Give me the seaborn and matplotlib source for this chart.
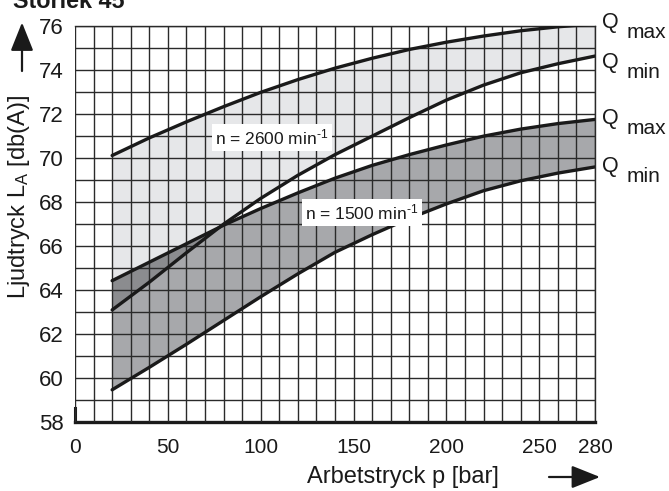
import matplotlib
matplotlib.use("Agg")
import numpy as np
import pandas as pd
import matplotlib.pyplot as plt
import seaborn as sns
from matplotlib.ticker import MultipleLocator

# Sound pressure level vs. working pressure, size 45
pressure = [20, 40, 60, 80, 100, 120, 140, 160, 180, 200, 220, 240, 260, 280]
n2600_qmax = [70.10, 70.90, 71.63, 72.32, 72.97, 73.55, 74.07, 74.52, 74.92, 75.25, 75.53, 75.77, 75.95, 76.08]
n2600_qmin = [63.08, 64.34, 65.68, 66.98, 68.15, 69.20, 70.14, 70.98, 71.82, 72.62, 73.30, 73.86, 74.27, 74.62]
n1500_qmax = [64.41, 65.25, 66.09, 66.93, 67.69, 68.40, 69.07, 69.65, 70.14, 70.58, 70.98, 71.30, 71.55, 71.74]
n1500_qmin = [59.45, 60.47, 61.52, 62.60, 63.68, 64.72, 65.70, 66.50, 67.24, 67.90, 68.50, 68.95, 69.30, 69.58]

x_ticks = [0, 50, 100, 150, 200, 250, 280]
y_ticks = [58, 60, 62, 64, 66, 68, 70, 72, 74, 76]

sns.set_theme(style="white")
plt.rcParams["font.family"] = ["Liberation Sans", "DejaVu Sans"]
plt.rcParams["mathtext.fontset"] = "custom"
plt.rcParams["mathtext.rm"] = "Liberation Sans"
plt.rcParams["mathtext.it"] = "Liberation Sans"

W, H = 669, 491
fig = plt.figure(figsize=(W / 100, H / 100), dpi=100)
ax = fig.add_axes([75 / W, 1 - 421.7 / H, 520 / W, 396 / H])

curves = {
    "2600 Qmax": n2600_qmax,
    "2600 Qmin": n2600_qmin,
    "1500 Qmax": n1500_qmax,
    "1500 Qmin": n1500_qmin,
}
df = pd.concat(
    [pd.DataFrame({"p": pressure, "L": v, "curve": k}) for k, v in curves.items()],
    ignore_index=True,
)

p = np.array(pressure, dtype=float)
a_hi, a_lo = np.array(n2600_qmax), np.array(n2600_qmin)
b_hi, b_lo = np.array(n1500_qmax), np.array(n1500_qmin)

# bands for both speeds, and their overlap
ax.fill_between(p, a_lo, a_hi, color="#e6e7e9", lw=0, zorder=1)
ax.fill_between(p, b_lo, b_hi, color="#a7a8ab", lw=0, zorder=1.1)
ov_lo = np.maximum(a_lo, b_lo)
ov_hi = np.minimum(a_hi, b_hi)
ax.fill_between(p, ov_lo, ov_hi, where=ov_hi > ov_lo, interpolate=True,
                color="#8b8c8f", lw=0, zorder=1.2)

sns.lineplot(data=df, x="p", y="L", hue="curve",
             palette={k: "#1a1a1a" for k in curves}, legend=False,
             lw=2.4, ax=ax, zorder=3, sort=True)

ax.set_xlim(0, 280)
ax.set_ylim(58, 76)
ax.set_xticks(x_ticks)
ax.set_yticks(y_ticks)
ax.xaxis.set_minor_locator(MultipleLocator(10))
ax.yaxis.set_minor_locator(MultipleLocator(1))
ax.set_axisbelow(False)
ax.grid(which="both", color="#2a2a2a", lw=1.0)
ax.tick_params(axis="x", which="major", direction="out", length=7, width=1.6,
               color="#1a1a1a", labelsize=15, pad=5, labelcolor="#1a1a1a")
ax.tick_params(axis="y", which="major", length=0, labelsize=16, pad=8,
               labelcolor="#1a1a1a")
ax.tick_params(which="minor", length=0)
ax.set_xlabel("")
ax.set_ylabel("")

for s in ("top", "right"):
    ax.spines[s].set_color("#2a2a2a")
    ax.spines[s].set_linewidth(1.0)
ax.spines["bottom"].set_color("#1a1a1a")
ax.spines["bottom"].set_linewidth(2.4)
ax.spines["left"].set_color("#1a1a1a")
ax.spines["left"].set_linewidth(2.2)
ax.spines["left"].set_bounds(58, 58.6)

# speed labels inside the plot
box = dict(facecolor="white", edgecolor="none", pad=2.5)
ax.text(75.5, 70.6, "n = 2600 min$^{\\text{-1}}$", fontsize=12.5,
        ha="left", va="baseline", bbox=box, zorder=5, color="#1a1a1a")
ax.text(124, 67.2, "n = 1500 min$^{\\text{-1}}$", fontsize=12.5,
        ha="left", va="baseline", bbox=box, zorder=5, color="#1a1a1a")

def ftext(x, y, s, **kw):
    fig.text(x / W, 1 - y / H, s, color="#1a1a1a", **kw)

# flow labels at the right edge
for qb, sub, sb in [(28, "max", 38), (68, "min", 78), (124, "max", 134), (172, "min", 182)]:
    ftext(602, qb, "Q", fontsize=15.5, ha="left", va="baseline")
    ftext(627, sb, sub, fontsize=15, ha="left", va="baseline")

ftext(13, 8.5, "Storlek 45", fontsize=16.8, fontweight="bold", ha="left", va="baseline")
ftext(19, 197, "Ljudtryck L$_{\\mathregular{A}}$ [db(A)]", fontsize=17,
      rotation=90, ha="center", va="center")
ftext(403, 477, "Arbetstryck p [bar]", fontsize=17, ha="center", va="center")

arrow = dict(arrowstyle="-|>,head_length=1.75,head_width=0.7", color="#1a1a1a",
             lw=1.6, shrinkA=0, shrinkB=0, mutation_scale=10)
ax.annotate("", xy=(22, H - 22.5), xytext=(22, H - 71), xycoords="figure pixels",
            textcoords="figure pixels", arrowprops=arrow, annotation_clip=False)
ax.annotate("", xy=(600, H - 477), xytext=(549, H - 477), xycoords="figure pixels",
            textcoords="figure pixels", arrowprops=arrow, annotation_clip=False)

fig.savefig("out.png", dpi=100)
